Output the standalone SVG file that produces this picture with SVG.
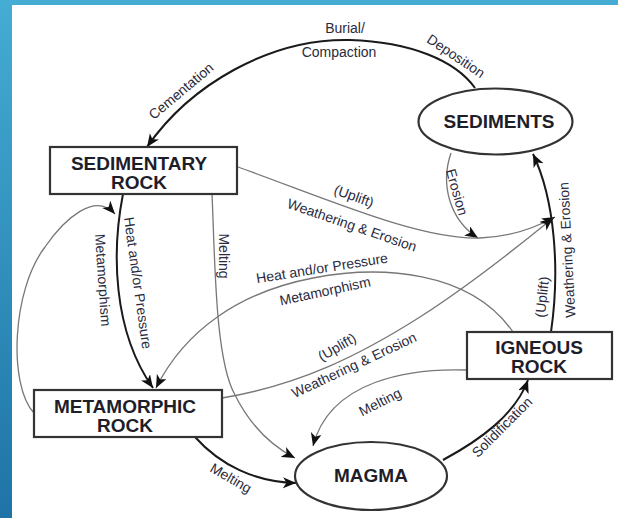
<svg xmlns="http://www.w3.org/2000/svg" width="618" height="518" viewBox="0 0 618 518">
<style>
.node{fill:#fff;stroke:#333;stroke-width:2.2}
.nt{font-family:"Liberation Sans",Arial,sans-serif;font-weight:bold;font-size:19px;fill:#1e1e2a;text-anchor:middle}
.lb{font-family:"Liberation Sans",Arial,sans-serif;font-size:14px;fill:#2b2b3d;text-anchor:middle}
.thick{fill:none;stroke:#1a1a1a;stroke-width:2}
.thin{fill:none;stroke:#777;stroke-width:1.3}
</style>
<defs>
<linearGradient id="bg" x1="0" y1="0" x2="0" y2="1">
<stop offset="0" stop-color="#45acd3"/>
<stop offset="1" stop-color="#1e74a6"/>
</linearGradient>
<marker id="ah" markerUnits="userSpaceOnUse" markerWidth="15" markerHeight="12" refX="13" refY="5.5" orient="auto">
<path d="M0,0 L13,5.5 L0,11 L3.5,5.5 z" fill="#111"/>
</marker>
</defs>
<rect x="0" y="0" width="618" height="518" fill="url(#bg)"/>
<rect x="12" y="5" width="606" height="513" fill="#fff"/>

<g id="connectors">
<path class="thick" d="M475,88 C455,60 410,42 350,40 C270,38 190,85 147,147" marker-end="url(#ah)"/>
<path class="thin" d="M451,153 C440,185 450,220 478,238" marker-end="url(#ah)"/>
<path class="thin" d="M238,167 C330,200 420,240 480,238 C510,237 535,228 555,217" marker-end="url(#ah)"/>
<path class="thin" d="M222,398 C300,385 360,355 420,317 C470,285 520,245 553,218" marker-end="url(#ah)"/>
<path class="thin" d="M513,332 C470,270 380,265 313,278 C240,292 185,330 156,388" marker-end="url(#ah)"/>
<path class="thin" d="M34,413 C8,385 12,290 45,247 C65,218 95,192 115,214" marker-end="url(#ah)"/>
<path class="thick" d="M123,194 C112,250 112,330 153,388" marker-end="url(#ah)"/>
<path class="thin" d="M212,194 C215,260 215,360 235,395 C250,425 270,445 295,458" marker-end="url(#ah)"/>
<path class="thick" d="M195,437 C220,465 255,482 296,483" marker-end="url(#ah)"/>
<path class="thin" d="M467,370 C410,368 330,380 313,446" marker-end="url(#ah)"/>
<path class="thick" d="M443,460 C480,440 515,415 528,380" marker-end="url(#ah)"/>
<path class="thick" d="M551,332 C560,270 555,200 533,154" marker-end="url(#ah)"/>
</g>

<g id="labels">
<text class="lb" transform="translate(181,91) rotate(-40)" dy="0.35em">Cementation</text>
<text class="lb" x="345" y="33">Burial/</text>
<text class="lb" x="339" y="57">Compaction</text>
<text class="lb" transform="translate(456,56) rotate(34)" dy="0.35em">Deposition</text>
<text class="lb" transform="translate(457,192) rotate(74)" dy="0.35em">Erosion</text>
<text class="lb" transform="translate(354,196) rotate(20)" dy="0.35em">(Uplift)</text>
<text class="lb" transform="translate(352,225) rotate(19)" dy="0.35em">Weathering &amp; Erosion</text>
<text class="lb" transform="translate(322,268) rotate(-9)" dy="0.35em">Heat and/or Pressure</text>
<text class="lb" transform="translate(325,291) rotate(-12)" dy="0.35em">Metamorphism</text>
<text class="lb" transform="translate(337,347) rotate(-30)" dy="0.35em">(Uplift)</text>
<text class="lb" transform="translate(354,365) rotate(-25)" dy="0.35em">Weathering &amp; Erosion</text>
<text class="lb" transform="translate(138,283) rotate(82)" dy="0.35em">Heat and/or Pressure</text>
<text class="lb" transform="translate(103,280) rotate(86)" dy="0.35em">Metamorphism</text>
<text class="lb" transform="translate(224,256) rotate(90)" dy="0.35em">Melting</text>
<text class="lb" transform="translate(231,478) rotate(30)" dy="0.35em">Melting</text>
<text class="lb" transform="translate(380,402) rotate(-27)" dy="0.35em">Melting</text>
<text class="lb" transform="translate(502,427) rotate(-45)" dy="0.35em">Solidification</text>
<text class="lb" transform="translate(542,297) rotate(-84)" dy="0.35em">(Uplift)</text>
<text class="lb" transform="translate(567,250) rotate(-93)" dy="0.35em">Weathering &amp; Erosion</text>
</g>

<g id="sedimentary-rock">
<rect class="node" x="50" y="147" width="187" height="47"/>
<text class="nt" x="139" y="170">SEDIMENTARY</text>
<text class="nt" x="139" y="189">ROCK</text>
</g>
<g id="sediments">
<ellipse class="node" cx="495.5" cy="121.5" rx="77" ry="33"/>
<text class="nt" x="499" y="128">SEDIMENTS</text>
</g>
<g id="metamorphic-rock">
<rect class="node" x="34" y="390" width="188" height="47"/>
<text class="nt" x="125" y="413">METAMORPHIC</text>
<text class="nt" x="125" y="432">ROCK</text>
</g>
<g id="igneous-rock">
<rect class="node" x="467" y="332" width="145" height="47"/>
<text class="nt" x="539" y="354">IGNEOUS</text>
<text class="nt" x="539" y="373">ROCK</text>
</g>
<g id="magma">
<ellipse class="node" cx="371" cy="476" rx="76" ry="34"/>
<text class="nt" x="371" y="482">MAGMA</text>
</g>
</svg>
